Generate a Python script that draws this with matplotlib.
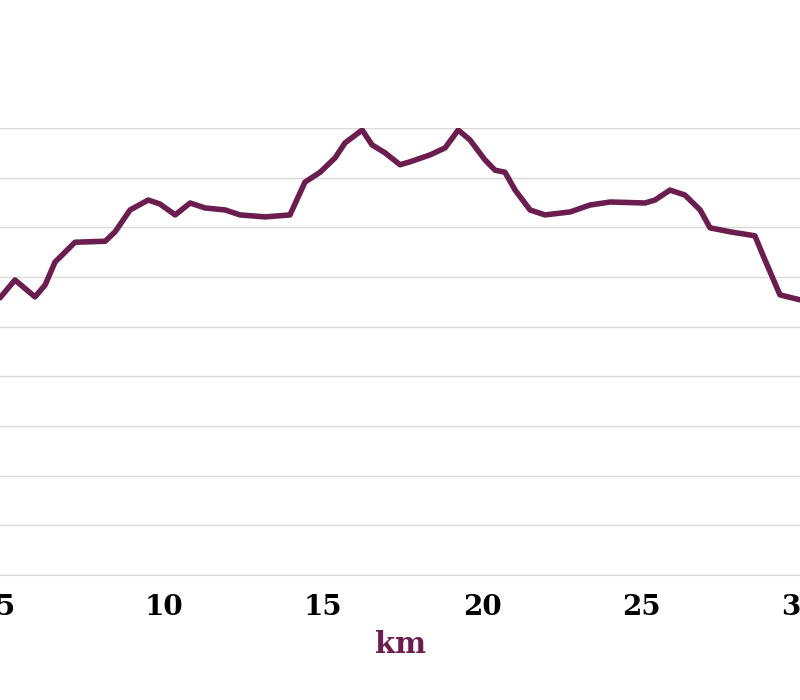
import matplotlib
matplotlib.use("Agg")
import matplotlib.pyplot as plt

km = [4.84,5.31,5.94,6.26,6.57,7.20,8.15,8.46,8.93,9.50,9.87,10.35,10.82,11.29,11.92,12.39,13.18,13.96,14.43,14.91,15.38,15.69,16.23,16.54,16.95,17.42,17.74,18.37,18.84,19.25,19.62,20.09,20.41,20.72,21.04,21.51,21.98,22.77,23.40,24.03,25.13,25.44,25.91,26.38,26.86,27.17,27.80,28.58,28.90,29.37,30.0]
elev = [5.58,5.94,5.60,5.84,6.30,6.70,6.72,6.91,7.35,7.55,7.47,7.25,7.49,7.39,7.35,7.25,7.21,7.25,7.91,8.11,8.40,8.70,8.96,8.66,8.50,8.26,8.32,8.46,8.60,8.96,8.76,8.36,8.15,8.11,7.75,7.35,7.25,7.31,7.45,7.51,7.49,7.55,7.75,7.65,7.35,6.99,6.91,6.83,6.34,5.64,5.54]
xticks = [5, 10, 15, 20, 25, 30]

fig = plt.figure(figsize=(8, 7), dpi=100)
ax = fig.add_axes([0, 125/700, 1, 447/700])
ax.plot(km, elev, color="#6b1d4f", lw=4, solid_capstyle="round", zorder=3)
ax.set_xlim(4.84, 30.0)
ax.set_ylim(0, 9)
ax.set_yticks(range(0, 10))
ax.set_yticklabels([])
ax.tick_params(axis="y", length=0)
ax.set_xticks(xticks)
ax.set_xticklabels([str(t) for t in xticks], fontsize=20, fontweight="bold", family="DejaVu Serif")
ax.tick_params(axis="x", length=0, pad=14)
ax.grid(axis="y", color="#d9d9d9", lw=1)
for s in ["top", "left", "right"]:
    ax.spines[s].set_visible(False)
ax.spines["bottom"].set_color("#d9d9d9")
ax.set_xlabel("km", fontsize=21, fontweight="bold", family="DejaVu Serif", color="#6b1d4f", labelpad=6)
fig.savefig("out.png")
